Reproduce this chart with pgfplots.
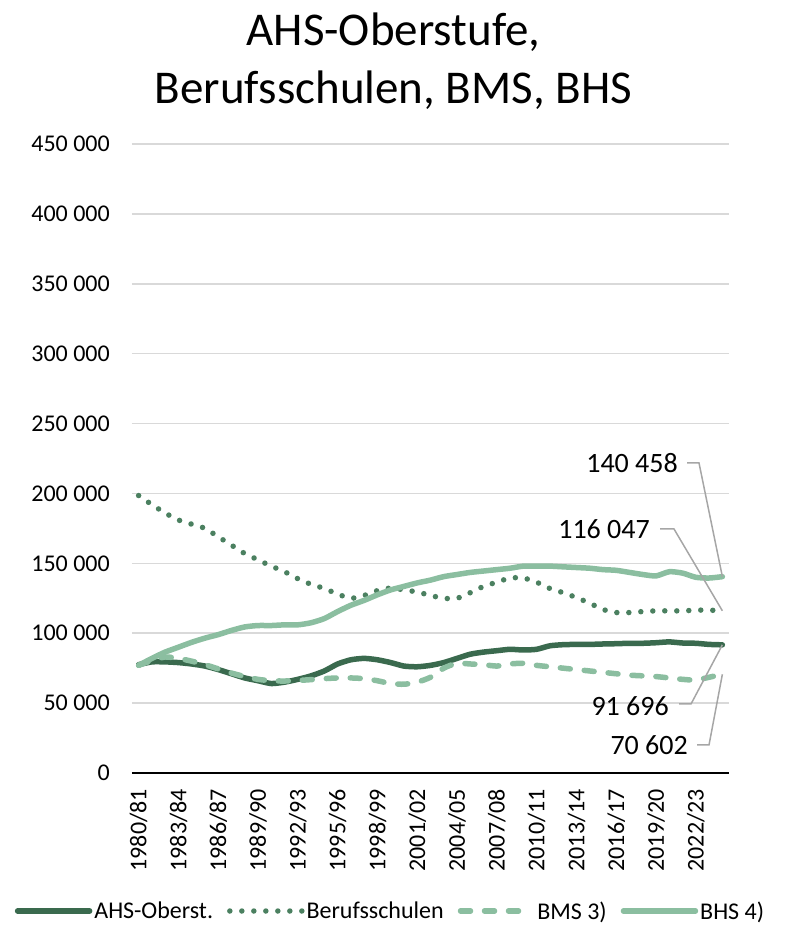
\documentclass[border=0pt]{standalone}
\usepackage{fontspec}
\setmainfont{Carlito}
\usepackage{pgfplots}
\pgfplotsset{compat=1.18}
\usepackage{pgfplotstable}

\definecolor{ahs}{HTML}{3A6A4E}
\definecolor{beruf}{HTML}{4B8060}
\definecolor{light}{HTML}{8BBEA0}
\definecolor{gridgray}{HTML}{D9D9D9}
\definecolor{leader}{HTML}{A6A6A6}

% Schülerzahlen je Schuljahr, idx 0 = 1980/81 ... 44 = 2024/25
\pgfplotstableread{
idx ahs beruf bms bhs
0 77500 198500 77000 77000
1 79500 192000 80500 82000
2 79500 186000 83000 86500
3 79000 181000 82000 90000
4 78000 178000 80000 93500
5 76500 175000 77500 96500
6 74000 169000 74500 99000
7 71000 163000 71500 102000
8 68000 157000 69000 104500
9 66000 152500 67000 105500
10 64000 148000 66000 105500
11 65000 144000 65800 106000
12 67000 139000 66200 106000
13 69500 135000 66800 107500
14 73000 132000 67500 110500
15 78000 128000 68000 115500
16 81000 125000 68000 120000
17 82000 127000 67500 123500
18 81000 130500 66000 127500
19 79000 132300 64000 131000
20 76500 131000 63500 133500
21 76000 129500 65000 136000
22 77000 127000 68500 138000
23 79000 125000 75000 140500
24 82000 125000 78500 142000
25 85000 129000 78000 143500
26 86500 133500 77500 144500
27 87500 136500 76500 145500
28 88500 139500 78000 146500
29 88000 139500 78500 148000
30 88500 136500 77000 148000
31 91000 132000 76000 148000
32 91800 129000 75000 147500
33 92000 125500 74000 147000
34 92000 121500 73000 146500
35 92300 117000 72000 145500
36 92500 114800 71000 145000
37 92800 114800 70000 143500
38 92800 115500 69500 142000
39 93200 116000 69000 141000
40 93800 116000 68000 144000
41 93000 116000 67000 143000
42 92800 116500 66500 140000
43 92000 116500 68500 139500
44 91696 116047 70602 140458
}\schueler

\begin{document}
\begin{tikzpicture}
\useasboundingbox (-132pt,-152pt) rectangle (655pt,773pt);
\begin{axis}[
  scale only axis, width=597pt, height=629pt,
  xmin=-0.5, xmax=44.5, ymin=0, ymax=450000,
  scaled y ticks=false,
  axis line style={draw=none},
  tick style={draw=none}, major tick length=0pt,
  ytick={0,50000,...,450000},
  yticklabels={0,50 000,100 000,150 000,200 000,250 000,300 000,350 000,400 000,450 000},
  xtick={0,3,...,42},
  xticklabels={1980/81,1983/84,1986/87,1989/90,1992/93,1995/96,1998/99,2001/02,2004/05,2007/08,2010/11,2013/14,2016/17,2019/20,2022/23},
  tick label style={font=\fontsize{24}{29}\selectfont, inner sep=0pt},
  yticklabel shift=22pt,
  xticklabel style={rotate=90, anchor=east},
  xticklabel shift=16pt,
  ymajorgrids, major grid style={draw=gridgray, line width=1.5pt},
  extra y ticks={0}, extra y tick labels={},
  extra y tick style={grid=major, major grid style={draw=black, line width=1.5pt}},
  legend columns=4,
  legend style={at={(0.433,-0.2194)}, anchor=center, draw=none, fill=none,
    font=\fontsize{24}{29}\selectfont, inner sep=0pt,
    /tikz/every even column/.append style={column sep=12pt}},
  legend image code/.code={\draw[#1] (0pt,0pt) -- (72pt,0pt);},
  every axis plot/.append style={line width=5.5pt, line cap=round, line join=round, smooth, tension=0.4},
]
\addplot[ahs] table[x=idx, y=ahs] {\schueler};
\addlegendentry{AHS-Oberst.}
\addplot[beruf, dash pattern=on 0pt off 12pt] table[x=idx, y=beruf] {\schueler};
\addlegendentry{Berufsschulen}
\addplot[light, dash pattern=on 10pt off 14pt] table[x=idx, y=bms] {\schueler};
\addlegendentry{BMS 3)}
\addplot[light] table[x=idx, y=bhs] {\schueler};
\addlegendentry{BHS 4)}
\coordinate (eBHS) at (axis cs:44,140458);
\coordinate (eBER) at (axis cs:44,116047);
\coordinate (eAHS) at (axis cs:44,91696);
\coordinate (eBMS) at (axis cs:44,70602);
\end{axis}

\node[anchor=base, font=\fontsize{47}{56}\selectfont, inner sep=0pt] at (261.5pt,727pt) {AHS-Oberstufe,};
\node[anchor=base, font=\fontsize{47}{56}\selectfont, inner sep=0pt] at (261.5pt,669pt) {Berufsschulen, BMS, BHS};

\begin{scope}[every node/.style={anchor=base east, inner sep=0pt, font=\fontsize{28}{34}\selectfont}]
\node at (546pt,300pt) {140 458};
\node at (518pt,234pt) {116 047};
\node at (537pt,57pt) {91 696};
\node at (556pt,18pt) {70 602};
\end{scope}
\begin{scope}[draw=leader, line width=1.5pt]
\draw (555pt,310pt) -- (567pt,310pt) -- (eBHS);
\draw (528pt,244pt) -- (542pt,244pt) -- (eBER);
\draw (547pt,69pt) -- (559pt,69pt) -- (eAHS);
\draw (565pt,28pt) -- (577pt,28pt) -- (eBMS);
\end{scope}
\end{tikzpicture}
\end{document}
